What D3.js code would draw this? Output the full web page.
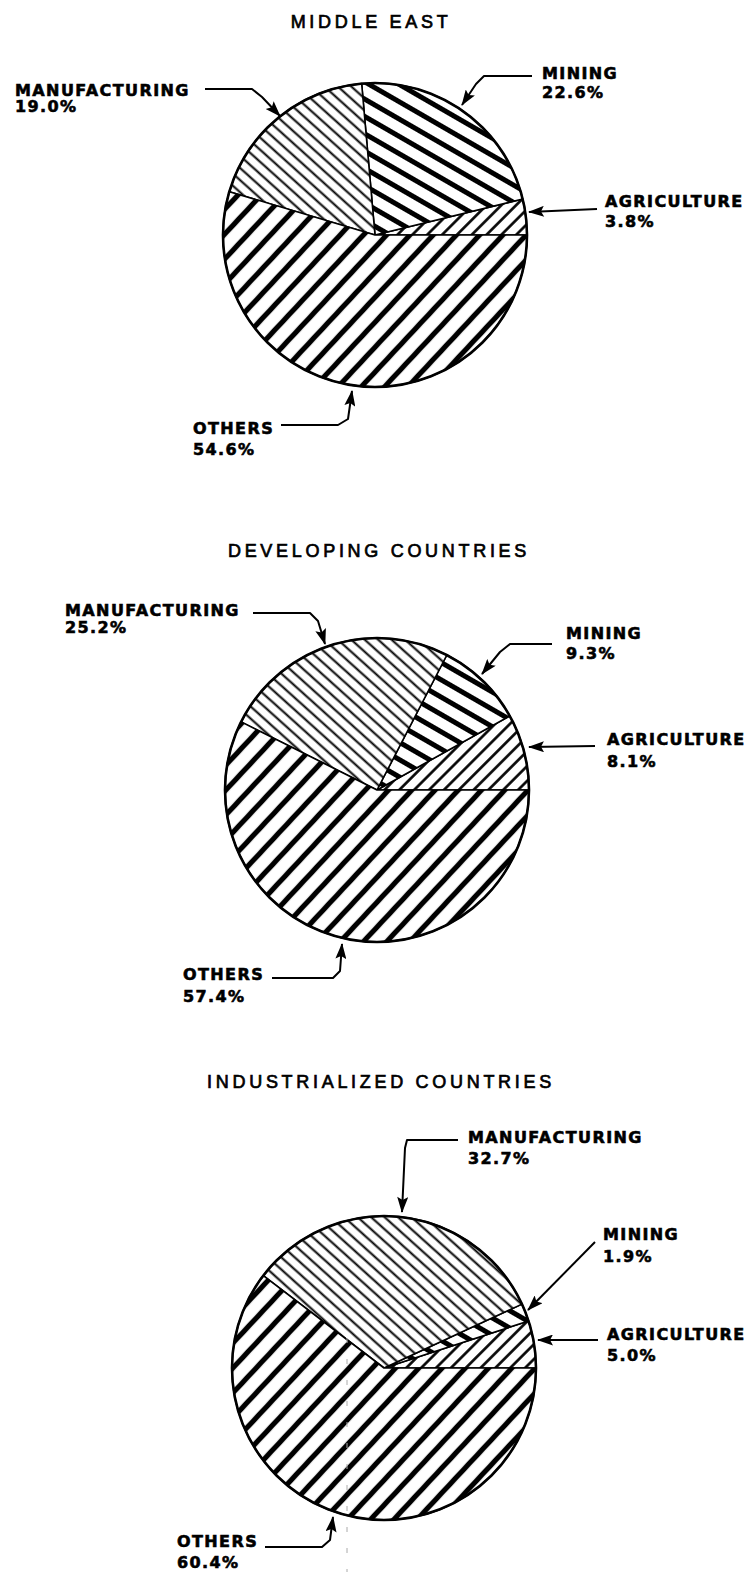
<!DOCTYPE html>
<html>
<head>
<meta charset="utf-8">
<script src="https://cdn.jsdelivr.net/npm/d3@7"></script>
<style>
  body { margin: 0; background: #fff; }
  svg { display: block; }
</style>
</head>
<body>
<div id="chart"></div>
<script>
// data
var regions = ["MIDDLE EAST", "DEVELOPING COUNTRIES", "INDUSTRIALIZED COUNTRIES"];
var sectors = ["AGRICULTURE", "MINING", "MANUFACTURING", "OTHERS"];
var middleEast = [3.8, 22.6, 19.0, 54.6];
var developing = [8.1, 9.3, 25.2, 57.4];
var industrialized = [5.0, 1.9, 32.7, 60.4];
var seriesList = [middleEast, developing, industrialized];

var width = 754;
var height = 1572;
var radius = 152;

// pie placement and title position
var pieLayout = [
  { cx: 375, cy: 235, titleX: 371, titleY: 28 },
  { cx: 377, cy: 790, titleX: 379, titleY: 557 },
  { cx: 384, cy: 1368, titleX: 381, titleY: 1088 }
];

// label text position (x, baseline 1, baseline 2) and arrow points, per pie, in sector order
var labelLayout = [
  [
    { x: 605, y1: 207, y2: 227, arrow: [[597, 209], [529, 212]] },
    { x: 542, y1: 79, y2: 98, arrow: [[532, 76], [484, 76], [476, 84], [462, 105]] },
    { x: 15, y1: 96, y2: 112, arrow: [[205, 89], [252, 89], [262, 97], [280, 116]] },
    { x: 193, y1: 434, y2: 455, arrow: [[281, 425], [338, 425], [348, 419], [352, 391]] }
  ],
  [
    { x: 607, y1: 745, y2: 767, arrow: [[595, 746], [529, 747]] },
    { x: 566, y1: 639, y2: 659, arrow: [[552, 644], [510, 644], [500, 652], [482, 674]] },
    { x: 65, y1: 616, y2: 633, arrow: [[253, 613], [310, 613], [318, 621], [325, 644]] },
    { x: 183, y1: 980, y2: 1002, arrow: [[272, 978], [333, 978], [340, 971], [342, 944]] }
  ],
  [
    { x: 607, y1: 1340, y2: 1361, arrow: [[598, 1340], [538, 1340]] },
    { x: 603, y1: 1240, y2: 1262, arrow: [[595, 1242], [528, 1310]] },
    { x: 468, y1: 1143, y2: 1164, arrow: [[458, 1140], [407, 1140], [405, 1148], [402, 1212]] },
    { x: 177, y1: 1547, y2: 1568, arrow: [[265, 1547], [322, 1547], [330, 1540], [333, 1517]] }
  ]
];

// hatch styles per sector: spacing, stroke width, rotation
var hatch = {
  AGRICULTURE: { gap: 10.5, w: 2.6, rot: 45 },
  MINING: { gap: 15, w: 5, rot: -60 },
  MANUFACTURING: { gap: 9, w: 2, rot: -48 },
  OTHERS: { gap: 17, w: 5.2, rot: 43 }
};

var svg = d3
  .select("#chart")
  .append("svg")
  .attr("width", width)
  .attr("height", height)
  .style("background", "#fff");

var defs = svg.append("defs");

sectors.forEach(function (s) {
  var h = hatch[s];
  var p = defs
    .append("pattern")
    .attr("id", "hatch-" + s)
    .attr("patternUnits", "userSpaceOnUse")
    .attr("width", h.gap)
    .attr("height", h.gap)
    .attr("patternTransform", "rotate(" + h.rot + ")");
  p.append("rect")
    .attr("width", h.gap)
    .attr("height", h.gap)
    .attr("fill", "#fff");
  p.append("line")
    .attr("x1", h.gap / 2)
    .attr("y1", -1)
    .attr("x2", h.gap / 2)
    .attr("y2", h.gap + 1)
    .attr("stroke", "#000")
    .attr("stroke-width", h.w);
});

defs
  .append("marker")
  .attr("id", "arrowhead")
  .attr("viewBox", "0 0 16 11")
  .attr("refX", 15)
  .attr("refY", 5.5)
  .attr("markerWidth", 17)
  .attr("markerHeight", 11)
  .attr("markerUnits", "userSpaceOnUse")
  .attr("orient", "auto")
  .append("path")
  .attr("d", "M0,0 L16,5.5 L0,11 L3,5.5 z")
  .attr("fill", "#000");

// slices start at 3 o'clock and run counter-clockwise
var pie = d3
  .pie()
  .sort(null)
  .startAngle(Math.PI / 2)
  .endAngle(Math.PI / 2 - 2 * Math.PI)
  .value(function (d) {
    return d.value;
  });

var arc = d3.arc().innerRadius(0).outerRadius(radius);
var fmt = d3.format(".1f");
var arrowLine = d3.line();

seriesList.forEach(function (values, i) {
  var lay = pieLayout[i];
  var rows = sectors.map(function (s, j) {
    return { sector: s, value: values[j] };
  });

  // title
  svg
    .append("text")
    .attr("x", lay.titleX)
    .attr("y", lay.titleY)
    .attr("text-anchor", "middle")
    .style("font-family", "'Liberation Sans', Arial, sans-serif")
    .style("font-size", "18px")
    .style("letter-spacing", "3.7px")
    .style("fill", "#000")
    .style("stroke", "#000")
    .style("stroke-width", "0.7px")
    .text(regions[i]);

  var g = svg
    .append("g")
    .attr("transform", "translate(" + lay.cx + "," + lay.cy + ")");

  g.selectAll("path.slice")
    .data(pie(rows))
    .enter()
    .append("path")
    .attr("class", "slice")
    .attr("d", arc)
    .attr("fill", function (d) {
      return "url(#hatch-" + d.data.sector + ")";
    })
    .attr("stroke", "#000")
    .attr("stroke-width", 1.6)
    .attr("stroke-linejoin", "round");

  g.append("circle")
    .attr("r", radius)
    .attr("fill", "none")
    .attr("stroke", "#000")
    .attr("stroke-width", 2.6);

  // labels and arrows
  rows.forEach(function (row, j) {
    var lb = labelLayout[i][j];
    var t = svg
      .append("text")
      .style("font-family", "'DejaVu Sans', sans-serif")
      .style("font-weight", "bold")
      .style("font-size", "16px")
      .style("letter-spacing", "1.4px")
      .style("fill", "#000")
      .style("stroke", "#000")
      .style("stroke-width", "0.6px");
    t.append("tspan").attr("x", lb.x).attr("y", lb.y1).text(row.sector);
    t.append("tspan").attr("x", lb.x).attr("y", lb.y2).text(fmt(row.value) + "%");

    svg
      .append("path")
      .attr("d", arrowLine(lb.arrow))
      .attr("fill", "none")
      .attr("stroke", "#000")
      .attr("stroke-width", 2)
      .attr("stroke-linejoin", "round")
      .attr("marker-end", "url(#arrowhead)");
  });
});

// faint scanning mark seen on the last chart
svg
  .append("line")
  .attr("x1", 347)
  .attr("y1", 1338)
  .attr("x2", 347)
  .attr("y2", height)
  .attr("stroke", "#aaa")
  .attr("stroke-width", 1)
  .attr("stroke-dasharray", "5,16");
</script>
</body>
</html>
